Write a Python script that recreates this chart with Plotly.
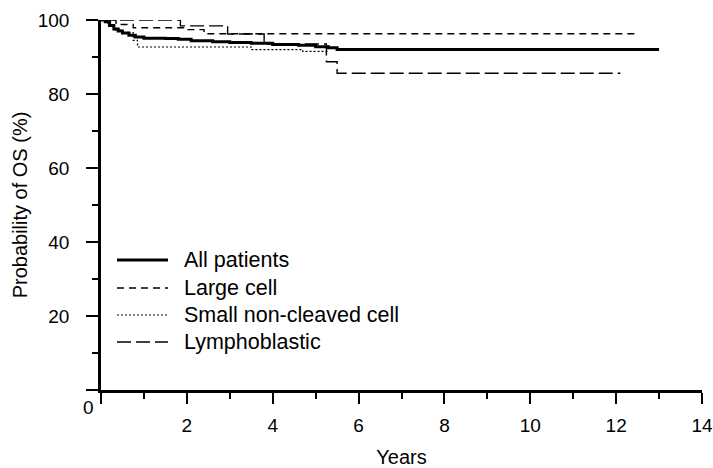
import plotly.graph_objects as go

# ---- data (Kaplan-Meier estimates) ----
all_years = [0, 0.1, 0.2, 0.3, 0.4, 0.5, 0.65, 0.8, 1.0, 1.5, 1.8, 2.1, 2.6, 3.0, 3.5, 4.0, 4.6, 5.0, 5.3, 5.5, 13.0]
all_os    = [100, 99.5, 98.5, 97.6, 97.0, 96.5, 95.9, 95.4, 95.1, 95.0, 94.8, 94.4, 94.1, 93.9, 93.7, 93.4, 93.2, 92.8, 92.5, 92.0, 92.0]

large_years = [0, 0.35, 0.75, 2.0, 2.4, 12.5]
large_os    = [100, 98.8, 97.9, 97.4, 96.3, 96.3]

snc_years = [0, 0.15, 0.3, 0.5, 0.75, 0.85, 3.5, 4.7, 5.3]
snc_os    = [100, 98.6, 97.3, 96.6, 94.5, 92.7, 92.0, 91.5, 91.5]

lympho_years = [0, 1.85, 2.95, 3.8, 5.25, 5.5, 12.1]
lympho_os    = [100, 98.4, 96.2, 93.5, 88.7, 85.6, 85.6]

series_names = ["All patients", "Large cell", "Small non-cleaved cell", "Lymphoblastic"]

x_ticks = [0, 2, 4, 6, 8, 10, 12, 14]
x_labels = ["", "2", "4", "6", "8", "10", "12", "14"]
x_minor = [1, 3, 5, 7, 9, 11, 13]
y_ticks = [0, 20, 40, 60, 80, 100]
y_labels = ["", "20", "40", "60", "80", "100"]
y_minor = [10, 30, 50, 70, 90]

FONT = "Liberation Sans, Arial, Helvetica, sans-serif"

styles = [
    dict(width=3, dash="solid"),
    dict(width=1.4, dash="7px,5px"),
    dict(width=1.2, dash="2px,2px"),
    dict(width=1.4, dash="14px,5px"),
]
data = [(all_years, all_os), (large_years, large_os), (snc_years, snc_os), (lympho_years, lympho_os)]

fig = go.Figure()
for (xs, ys), name, st in zip(data, series_names, styles):
    fig.add_trace(go.Scatter(
        x=xs, y=ys, mode="lines", name=name, line_shape="hv",
        line=dict(color="black", width=st["width"], dash=st["dash"]),
        cliponaxis=False, showlegend=False, hoverinfo="skip",
    ))

FW, FH = 713, 468
PLOT_L, PLOT_R, PLOT_T, PLOT_B = 101, 702, 20, 390   # target page pixels
L, R, T, B = PLOT_L, FW - PLOT_R, PLOT_T, FH - PLOT_B
pw, ph = PLOT_R - PLOT_L, PLOT_B - PLOT_T

def px2paper(px, py):
    return (px - PLOT_L) / pw, (PLOT_B - py) / ph

# custom legend (line samples + labels)
rows_y = [260, 288, 315, 342]
for name, st, ry in zip(series_names, styles, rows_y):
    x0, y0 = px2paper(117, ry)
    x1, _ = px2paper(168, ry)
    fig.add_shape(type="line", xref="paper", yref="paper", x0=x0, x1=x1, y0=y0, y1=y0,
                  line=dict(color="black", width=st["width"], dash=st["dash"]))
    tx, _ = px2paper(182, ry)
    fig.add_annotation(xref="paper", yref="paper", x=tx, y=y0, text=name, showarrow=False,
                       xanchor="left", yanchor="middle", font=dict(family=FONT, size=21.5, color="black"))

# shared origin label "0"
ox, oy = px2paper(88, 407)
fig.add_annotation(xref="paper", yref="paper", x=ox, y=oy, text="0", showarrow=False,
                   xanchor="center", yanchor="middle", font=dict(family=FONT, size=19, color="black"))

fig.update_layout(
    width=FW, height=FH,
    margin=dict(l=L, r=R, t=T, b=B, autoexpand=False),
    paper_bgcolor="white", plot_bgcolor="white",
    font=dict(family=FONT, size=20, color="black"),
    showlegend=False,
    xaxis=dict(
        range=[0, 14], tickvals=x_ticks, ticktext=x_labels, tickfont=dict(size=19),
        ticks="outside", ticklen=11, tickwidth=1.5, tickcolor="black",
        minor=dict(tickvals=x_minor, ticks="outside", ticklen=6, tickwidth=1.5, tickcolor="black"),
        showline=True, linewidth=2.5, linecolor="black", showgrid=False, zeroline=False,
        ticklabelstandoff=5, ticklabeloverflow="allow", automargin=False,
        title=dict(text="Years", font=dict(size=20), standoff=16),
    ),
    yaxis=dict(
        range=[0, 100], tickvals=y_ticks, ticktext=y_labels, tickfont=dict(size=19),
        ticks="outside", ticklen=12, tickwidth=1.5, tickcolor="black",
        minor=dict(tickvals=y_minor, ticks="outside", ticklen=6, tickwidth=1.5, tickcolor="black"),
        showline=True, linewidth=2.5, linecolor="black", showgrid=False, zeroline=False,
        ticklabelstandoff=13, ticklabeloverflow="allow", automargin=False,
        title=dict(text="Probability of OS (%)", font=dict(size=20), standoff=5),
    ),
)

fig.write_html(
    "out.html",
    config={"displayModeBar": False},
    post_script="document.body.style.margin='0px';document.body.style.overflow='hidden';",
)
